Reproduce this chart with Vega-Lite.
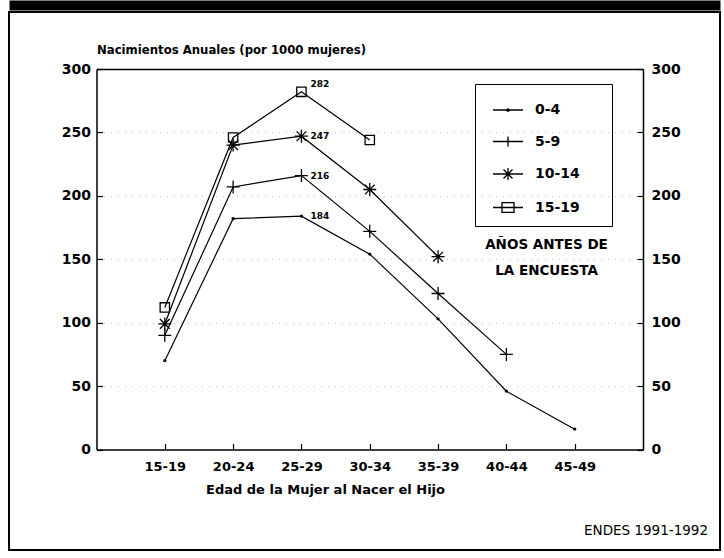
{
  "$schema": "https://vega.github.io/schema/vega-lite/v6.json",
  "width": 711,
  "height": 538,
  "autosize": {"type": "none"},
  "padding": {"left": 9, "top": 12, "right": 4, "bottom": 8},
  "background": "white",
  "title": {"text": "ENDES 1991-1992", "orient": "bottom", "anchor": "end", "frame": "group", "offset": -26, "dx": -12, "fontSize": 13.5, "fontWeight": "normal", "font": "DejaVu Sans", "color": "black"},
  "config": {
    "font": "DejaVu Sans",
    "view": {"stroke": "black", "strokeWidth": 2},
    "axis": {"domainColor": "black", "tickColor": "black", "labelColor": "black", "titleColor": "black", "labelFont": "DejaVu Sans", "titleFont": "DejaVu Sans", "domainWidth": 1.5, "tickWidth": 1.2}
  },
  "data": {"values": [
    {"edad": "15-19", "serie": "0-4", "tasa": 70},
    {"edad": "20-24", "serie": "0-4", "tasa": 182},
    {"edad": "25-29", "serie": "0-4", "tasa": 184},
    {"edad": "30-34", "serie": "0-4", "tasa": 154},
    {"edad": "35-39", "serie": "0-4", "tasa": 103},
    {"edad": "40-44", "serie": "0-4", "tasa": 46},
    {"edad": "45-49", "serie": "0-4", "tasa": 16},
    {"edad": "15-19", "serie": "5-9", "tasa": 90},
    {"edad": "20-24", "serie": "5-9", "tasa": 207},
    {"edad": "25-29", "serie": "5-9", "tasa": 216},
    {"edad": "30-34", "serie": "5-9", "tasa": 172},
    {"edad": "35-39", "serie": "5-9", "tasa": 123},
    {"edad": "40-44", "serie": "5-9", "tasa": 75},
    {"edad": "15-19", "serie": "10-14", "tasa": 99},
    {"edad": "20-24", "serie": "10-14", "tasa": 240},
    {"edad": "25-29", "serie": "10-14", "tasa": 247},
    {"edad": "30-34", "serie": "10-14", "tasa": 205},
    {"edad": "35-39", "serie": "10-14", "tasa": 152},
    {"edad": "15-19", "serie": "15-19", "tasa": 112},
    {"edad": "20-24", "serie": "15-19", "tasa": 246},
    {"edad": "25-29", "serie": "15-19", "tasa": 282},
    {"edad": "30-34", "serie": "15-19", "tasa": 244}
  ]},
  "layer": [
    {
      "encoding": {
        "x": {"field": "edad", "type": "ordinal", "scale": {"type": "point", "padding": 1, "range": [87.5, 634]},
          "axis": {"orient": "bottom", "offset": -100.5, "title": "Edad de la Mujer al Nacer el Hijo", "labelAngle": 0, "labelFontSize": 13, "labelFontWeight": "bold", "labelPadding": 17, "tickSize": -6, "grid": false, "titleFontSize": 13, "titleFontWeight": "bold", "titlePadding": 10, "titleX": 316, "titleAlign": "center"}},
        "y": {"field": "tasa", "type": "quantitative", "scale": {"domain": [0, 300], "range": [437.5, 57], "nice": false, "zero": false},
          "axis": {"orient": "left", "offset": -87.5, "values": [0, 50, 100, 150, 200, 250, 300], "tickSize": -6, "labelPadding": 12, "labelFontSize": 14, "labelFontWeight": "bold",
            "grid": true,
            "gridColor": {"condition": {"test": "datum.value === 300", "value": "black"}, "value": "#999999"},
            "gridDash": {"condition": {"test": "datum.value === 300", "value": []}, "value": [1, 6]},
            "gridWidth": {"condition": {"test": "datum.value === 300", "value": 1.5}, "value": 1},
            "gridOpacity": {"condition": {"test": "datum.value === 300", "value": 1}, "value": 0.6},
            "title": "Nacimientos Anuales (por 1000 mujeres)", "titleAngle": 0, "titleAlign": "left", "titleBaseline": "alphabetic", "titleX": 0, "titleY": 41, "titleFontSize": 13, "titleFontWeight": "bold", "titleFont": "Liberation Sans Narrow, DejaVu Sans Condensed, DejaVu Sans"}}
      },
      "layer": [
        {"mark": {"type": "line", "color": "black", "strokeWidth": 1.2}, "encoding": {"detail": {"field": "serie"}}},
        {"mark": {"type": "point", "filled": false, "color": "black", "strokeWidth": 1.3, "size": 169, "opacity": 1},
          "encoding": {"shape": {"field": "serie", "type": "nominal", "legend": null,
            "scale": {"domain": ["0-4", "5-9", "10-14", "15-19"], "range": [
              "M-0.15,0a0.15,0.15 0 1,0 0.3,0a0.15,0.15 0 1,0 -0.3,0",
              "M-1,0H1M0,-1V1",
              "M-1,0H1M0,-1V1M-0.75,-0.75L0.75,0.75M-0.75,0.75L0.75,-0.75",
              "M-0.72,-0.72H0.72V0.72H-0.72Z"]}}}},
        {"transform": [{"filter": "datum.edad === '25-29' && datum.serie !== '15-19'"}],
          "mark": {"type": "text", "align": "left", "baseline": "middle", "dx": 9, "fontSize": 9, "fontWeight": "bold", "color": "black", "font": "DejaVu Sans"},
          "encoding": {"text": {"field": "tasa", "type": "quantitative"}}},
        {"transform": [{"filter": "datum.edad === '25-29' && datum.serie === '15-19'"}],
          "mark": {"type": "text", "align": "left", "baseline": "middle", "dx": 9, "dy": -8, "fontSize": 9, "fontWeight": "bold", "color": "black", "font": "DejaVu Sans"},
          "encoding": {"text": {"field": "tasa", "type": "quantitative"}}}
      ]
    },
    {
      "mark": {"type": "point", "filled": false, "color": "black", "opacity": 0, "strokeWidth": 1.3},
      "encoding": {
        "x": {"field": "edad", "type": "ordinal", "axis": {"orient": "top", "offset": 7, "domainWidth": 10, "domainColor": "black", "labels": false, "ticks": false, "title": null, "grid": false}},
        "y": {"field": "tasa", "type": "quantitative", "scale": {"domain": [0, 300], "range": [437.5, 57], "nice": false, "zero": false},
          "axis": {"orient": "right", "offset": -77, "values": [0, 50, 100, 150, 200, 250, 300], "tickSize": -6, "labelPadding": 14, "labelFontSize": 14, "labelFontWeight": "bold", "grid": false,
            "title": ["AÑOS ANTES DE", "LA ENCUESTA"], "titleAngle": 0, "titleAlign": "center", "titleBaseline": "alphabetic", "titleX": -97, "titleY": 236, "titleLineHeight": 26, "titleFontSize": 13.5, "titleFontWeight": "bold"}},
        "shape": {"field": "serie", "type": "nominal",
          "scale": {"domain": ["0-4", "5-9", "10-14", "15-19"], "range": [
            "M-1,0H1M-0.08,0a0.08,0.08 0 1,0 0.16,0a0.08,0.08 0 1,0 -0.16,0",
            "M-1,0H1M0,-0.33V0.33",
            "M-1,0H1M0,-0.4V0.4M-0.3,-0.3L0.3,0.3M-0.3,0.3L0.3,-0.3",
            "M-1,0H1M-0.4,-0.33H0.4V0.33H-0.4Z"]},
          "legend": {"orient": "none", "legendX": 466, "legendY": 72, "title": null, "symbolSize": 900, "symbolStrokeWidth": 1.3, "symbolStrokeColor": "black", "symbolFillColor": "transparent", "symbolOpacity": 1, "symbolOffset": 7, "labelOffset": 11, "rowPadding": 8.5, "padding": 10, "strokeColor": "black", "labelFont": "DejaVu Sans", "labelFontWeight": "bold", "labelFontSize": 14, "labelColor": "black", "labelExpr": "datum.label + '\u2800\u2800'"}}
      }
    }
  ],
  "resolve": {"scale": {"x": "independent", "y": "independent", "shape": "independent"}}
}
